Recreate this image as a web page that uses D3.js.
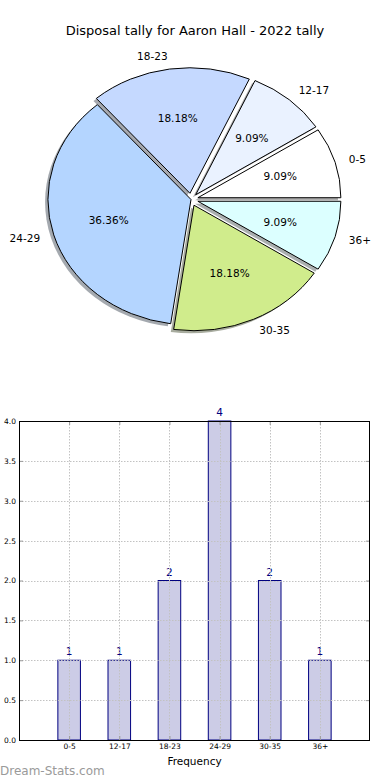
<!DOCTYPE html>
<html>
<head>
<meta charset="utf-8">
<script src="https://cdn.jsdelivr.net/npm/d3@7"></script>
<style>
  body { margin: 0; background: #fff; }
  svg { display: block; font-family: "DejaVu Sans", sans-serif; }
</style>
</head>
<body>
<svg id="chart" width="390" height="780"></svg>
<script>
// data
let ageGroups = ['0-5', '12-17', '18-23', '24-29', '30-35', '36+'];
let tally = [1, 1, 2, 4, 2, 1];
let sliceColors = ['#ffffff', '#eaf2ff', '#c5d9ff', '#b4d5ff', '#d0ec8c', '#dcffff'];
let explode = [0.05, 0.05, 0.05, 0, 0.05, 0.05];
let yTicks = [0, 0.5, 1, 1.5, 2, 2.5, 3, 3.5, 4];

let svg = d3.select('#chart');

svg.append('text')
  .attr('x', 195).attr('y', 35)
  .attr('text-anchor', 'middle')
  .style('font-size', '13px')
  .text('Disposal tally for Aaron Hall - 2022 tally');

// ---- pie (elliptic, like the unequal aspect axes) ----
let cx = 191, cy = 199.5, Rx = 143, Ry = 125.5;
let xp = d3.scaleLinear().domain([-1, 1]).range([cx - Rx, cx + Rx]);
let yp = d3.scaleLinear().domain([-1, 1]).range([cy + Ry, cy - Ry]);

let total = d3.sum(tally);
// start at 3 o'clock, go counter clockwise
let pie = d3.pie().sort(null).startAngle(Math.PI / 2).endAngle(Math.PI / 2 - 2 * Math.PI);
let slices = pie(tally);
let arc = d3.arc().innerRadius(0).outerRadius(1);

let pieG = svg.append('g')
  .attr('transform', `translate(${xp(0)},${yp(0)}) scale(${xp(1) - xp(0)},${yp(-1) - yp(0)})`);

let mid = d => (d.startAngle + d.endAngle) / 2;

// shadows first, under every wedge
pieG.selectAll('path.shadow')
  .data(slices)
  .enter()
  .append('path')
  .attr('class', 'shadow')
  .attr('d', arc)
  .attr('transform', (d, i) => `translate(${explode[i] * Math.sin(mid(d)) - 0.02},${-explode[i] * Math.cos(mid(d)) + 0.02})`)
  .attr('fill', (d, i) => {
    let c = d3.rgb(sliceColors[i]);
    return d3.rgb(c.r * 0.3, c.g * 0.3, c.b * 0.3);
  })
  .attr('fill-opacity', 0.45)
  .attr('stroke', 'none');

pieG.selectAll('path.wedge')
  .data(slices)
  .enter()
  .append('path')
  .attr('class', 'wedge')
  .attr('d', arc)
  .attr('transform', (d, i) => `translate(${explode[i] * Math.sin(mid(d))},${-explode[i] * Math.cos(mid(d))})`)
  .attr('fill', (d, i) => sliceColors[i])
  .attr('stroke', '#000')
  .attr('stroke-width', 1)
  .attr('vector-effect', 'non-scaling-stroke');

// labels at 1.1, percentages at 0.6 of the radius
svg.selectAll('text.lbl')
  .data(slices)
  .enter()
  .append('text')
  .attr('class', 'lbl')
  .attr('x', (d, i) => xp((1.1 + explode[i]) * Math.sin(mid(d))))
  .attr('y', (d, i) => yp((1.1 + explode[i]) * Math.cos(mid(d))))
  .attr('dy', '0.35em')
  .attr('text-anchor', d => Math.sin(mid(d)) > 0 ? 'start' : 'end')
  .style('font-size', '10.5px')
  .text((d, i) => ageGroups[i]);

svg.selectAll('text.pct')
  .data(slices)
  .enter()
  .append('text')
  .attr('class', 'pct')
  .attr('x', (d, i) => xp((0.6 + explode[i]) * Math.sin(mid(d))))
  .attr('y', (d, i) => yp((0.6 + explode[i]) * Math.cos(mid(d))))
  .attr('dy', '0.35em')
  .attr('text-anchor', 'middle')
  .style('font-size', '10.5px')
  .text(d => (d.value / total * 100).toFixed(2) + '%');

// ---- bar chart ----
let plotL = 19, plotR = 370, plotT = 421, plotB = 740;
let x = d3.scaleLinear().domain([0, ageGroups.length + 1]).range([plotL, plotR]);
let y = d3.scaleLinear().domain([0, 4]).range([plotB, plotT]);
let barW = 0.45;

let barG = svg.append('g');

barG.selectAll('rect')
  .data(tally)
  .enter()
  .append('rect')
  .attr('x', (d, i) => x(i + 1 - barW / 2))
  .attr('y', d => y(d))
  .attr('width', x(barW) - x(0))
  .attr('height', d => y(0) - y(d))
  .attr('fill', '#ccccE6')
  .attr('stroke', '#000080')
  .attr('stroke-width', 1);

// dotted grid on top of the bars
let grid = svg.append('g')
  .attr('stroke', '#c2c2c2')
  .attr('stroke-width', 1)
  .attr('stroke-dasharray', '1.5,1.5');

grid.selectAll('line.gy')
  .data(yTicks)
  .enter()
  .append('line')
  .attr('x1', plotL).attr('x2', plotR)
  .attr('y1', d => Math.round(y(d)) + 0.5).attr('y2', d => Math.round(y(d)) + 0.5);

grid.selectAll('line.gx')
  .data(ageGroups)
  .enter()
  .append('line')
  .attr('x1', (d, i) => Math.round(x(i + 1)) + 0.5).attr('x2', (d, i) => Math.round(x(i + 1)) + 0.5)
  .attr('y1', plotT).attr('y2', plotB);

barG.selectAll('text.val')
  .data(tally)
  .enter()
  .append('text')
  .attr('class', 'val')
  .attr('x', (d, i) => x(i + 1))
  .attr('y', d => y(d) - 5)
  .attr('text-anchor', 'middle')
  .attr('fill', '#000080')
  .style('font-size', '10.5px')
  .text(d => d);

// axes, classic inside ticks on all four sides
let yAxis = d3.axisLeft(y).tickValues(yTicks).tickFormat(d3.format('.1f')).tickSizeInner(-4).tickSizeOuter(0).tickPadding(3);
let yAxisR = d3.axisRight(y).tickValues(yTicks).tickFormat('').tickSizeInner(-4).tickSizeOuter(0);
let xAxis = d3.axisBottom(x).tickValues(d3.range(1, ageGroups.length + 1)).tickFormat(d => ageGroups[d - 1]).tickSizeInner(-4).tickSizeOuter(0).tickPadding(4);
let xAxisT = d3.axisTop(x).tickValues(d3.range(1, ageGroups.length + 1)).tickFormat('').tickSizeInner(-4).tickSizeOuter(0);

function styleAxis(g) {
  g.select('.domain').remove();
  g.selectAll('.tick line').attr('stroke', '#999');
  g.selectAll('.tick text').attr('fill', '#000').style('font-size', '7.5px').style('font-family', '"DejaVu Sans", sans-serif');
}

svg.append('g').attr('transform', `translate(${plotL},0)`).call(yAxis).call(styleAxis);
svg.append('g').attr('transform', `translate(${plotR},0)`).call(yAxisR).call(styleAxis);
svg.append('g').attr('transform', `translate(0,${plotB})`).call(xAxis).call(styleAxis);
svg.append('g').attr('transform', `translate(0,${plotT})`).call(xAxisT).call(styleAxis);

svg.append('rect')
  .attr('x', plotL + 0.5).attr('y', plotT + 0.5)
  .attr('width', plotR - plotL - 1).attr('height', plotB - plotT)
  .attr('fill', 'none')
  .attr('stroke', '#000')
  .attr('stroke-width', 1);

svg.append('text')
  .attr('x', (plotL + plotR) / 2).attr('y', 765)
  .attr('text-anchor', 'middle')
  .style('font-size', '10.5px')
  .text('Frequency');

svg.append('text')
  .attr('x', 0).attr('y', 775)
  .attr('fill', '#9a9a9a')
  .style('font-size', '12px')
  .text('Dream-Stats.com');
</script>
</body>
</html>
